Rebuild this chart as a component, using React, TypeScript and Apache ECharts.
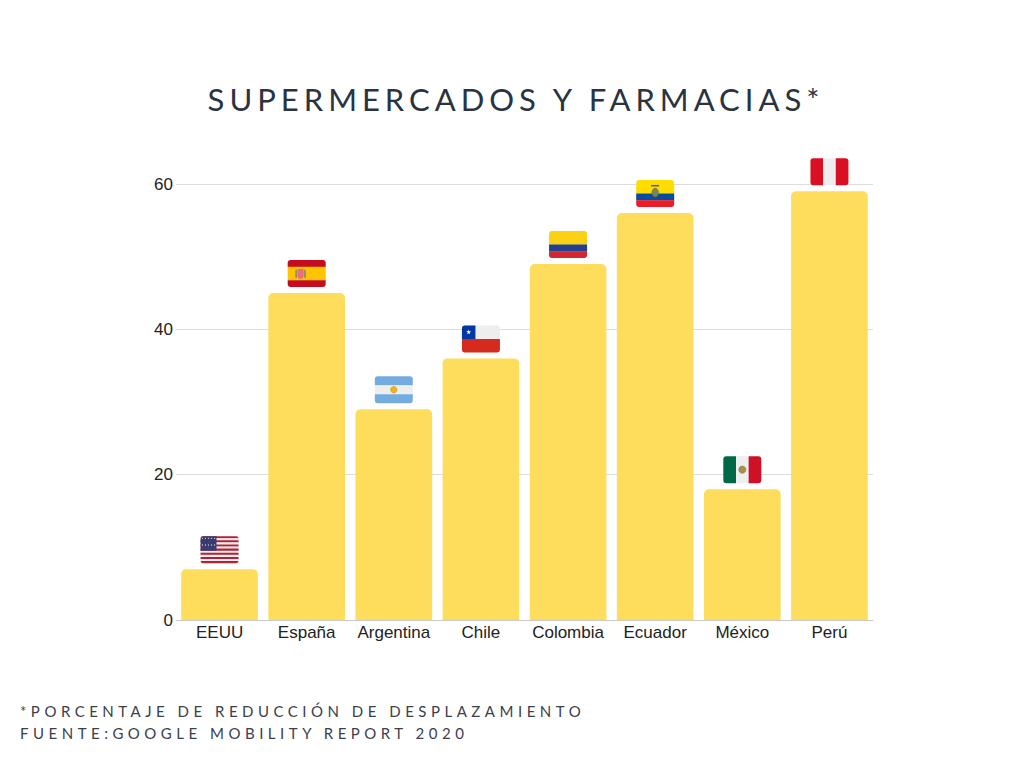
import React, { useEffect, useRef } from "react";
import * as echarts from "echarts";

const categories = ["EEUU", "España", "Argentina", "Chile", "Colombia", "Ecuador", "México", "Perú"];
const values = [7, 45, 29, 36, 49, 56, 18, 59];
const flagCodes = ["us", "es", "ar", "cl", "co", "ec", "mx", "pe"];
const yTicks = { min: 0, max: 60, interval: 20 };
const titleText = "SUPERMERCADOS Y FARMACIAS*";
const footerLines = ["*PORCENTAJE DE REDUCCIÓN DE DESPLAZAMIENTO", "FUENTE:GOOGLE MOBILITY REPORT 2020"];

const R = 3;
const WHITE = "#EEEEEE";

function rect(x: number, y: number, w: number, h: number, fill: string, r: any = 0) {
  return { type: "rect", shape: { x, y, width: w, height: h, r }, style: { fill } };
}
function circle(cx: number, cy: number, r: number, fill: string, stroke?: string) {
  return { type: "circle", shape: { cx, cy, r }, style: stroke ? { fill, stroke, lineWidth: 0.6 } : { fill } };
}
function star(cx: number, cy: number, ro: number, ri: number, fill: string) {
  const pts: number[][] = [];
  for (let k = 0; k < 10; k++) {
    const a = -Math.PI / 2 + (k * Math.PI) / 5;
    const rr = k % 2 === 0 ? ro : ri;
    pts.push([cx + rr * Math.cos(a), cy + rr * Math.sin(a)]);
  }
  return { type: "polygon", shape: { points: pts }, style: { fill } };
}
function hStripes(x: number, y: number, w: number, h: number, parts: [string, number][]) {
  const out: any[] = [];
  let cy = y;
  parts.forEach(([c, f], i) => {
    const sh = h * f;
    const r = i === 0 ? [R, R, 0, 0] : i === parts.length - 1 ? [0, 0, R, R] : 0;
    out.push(rect(x, cy, w, sh + (i < parts.length - 1 ? 0.3 : 0), c, r));
    cy += sh;
  });
  return out;
}
function vStripes(x: number, y: number, w: number, h: number, parts: string[]) {
  const out: any[] = [];
  const sw = w / parts.length;
  parts.forEach((c, i) => {
    const r = i === 0 ? [R, 0, 0, R] : i === parts.length - 1 ? [0, R, R, 0] : 0;
    out.push(rect(x + i * sw, y, sw + (i < parts.length - 1 ? 0.3 : 0), h, c, r));
  });
  return out;
}

function flagShapes(code: string, x: number, y: number, w: number, h: number): any[] {
  const cx = x + w / 2;
  const cy = y + h / 2;
  switch (code) {
    case "us": {
      const parts: [string, number][] = [];
      for (let i = 0; i < 13; i++) parts.push([i % 2 === 0 ? "#B22234" : WHITE, 1 / 13]);
      const out = hStripes(x, y, w, h, parts);
      const cw = w * 0.42;
      const ch = (h * 7) / 13;
      out.push(rect(x, y, cw, ch, "#3C3B6E", [R, 0, 0, 0]));
      for (let r = 0; r < 4; r++)
        for (let c = 0; c < 5; c++)
          out.push(circle(x + cw * (0.12 + c * 0.19), y + ch * (0.15 + r * 0.23), 0.55, "#DDDDEE"));
      return out;
    }
    case "es": {
      const out = hStripes(x, y, w, h, [["#C60B1E", 0.25], ["#FFC400", 0.5], ["#C60B1E", 0.25]]);
      out.push(rect(x + w * 0.2, y + h * 0.36, w * 0.05, h * 0.3, "#9A8A6A"));
      out.push(rect(x + w * 0.43, y + h * 0.36, w * 0.05, h * 0.3, "#9A8A6A"));
      out.push(rect(x + w * 0.26, y + h * 0.33, w * 0.16, h * 0.36, "#E8707A", [1, 1, 3, 3]));
      return out;
    }
    case "ar": {
      const out = hStripes(x, y, w, h, [["#74ACDF", 1 / 3], [WHITE, 1 / 3], ["#74ACDF", 1 / 3]]);
      out.push(circle(cx, cy, 3.2, "#F6B40E", "#C8891A"));
      return out;
    }
    case "cl": {
      const out = hStripes(x, y, w, h, [[WHITE, 0.5], ["#D52B1E", 0.5]]);
      out.push(rect(x, y, h * 0.5, h * 0.5, "#0039A6", [R, 0, 0, 0]));
      out.push(star(x + h * 0.25, y + h * 0.25, 2.6, 1.05, "#FFFFFF"));
      return out;
    }
    case "co":
      return hStripes(x, y, w, h, [["#FAD114", 0.5], ["#253F8F", 0.25], ["#D22630", 0.25]]);
    case "ec": {
      const out = hStripes(x, y, w, h, [["#FFDD00", 0.5], ["#034EA2", 0.25], ["#ED1C24", 0.25]]);
      out.push({ type: "ellipse", shape: { cx, cy: cy - 1, rx: 3.2, ry: 4.2 }, style: { fill: "#6C8F5A", stroke: "#8A6A3A", lineWidth: 0.8 } });
      out.push(rect(cx - 4, y + h * 0.18, 8, 1.6, "#7A5A30"));
      return out;
    }
    case "mx": {
      const out = vStripes(x, y, w, h, ["#006847", WHITE, "#CE1126"]);
      out.push(circle(cx, cy, 3.6, "#B08A4A", "#6F8F3F"));
      return out;
    }
    case "pe":
      return vStripes(x, y, w, h, ["#D91023", WHITE, "#D91023"]);
  }
  return [];
}

const cssText = `
svg text[style*="Lato"] { letter-spacing: 4.5px; }
svg text[style*="31px"][style*="Lato"] { letter-spacing: 5.0px; }
`;

export default function App() {
  const ref = useRef<HTMLDivElement>(null);
  useEffect(() => {
    if (!ref.current) return;
    const chart = echarts.init(ref.current, undefined, { renderer: "svg" });
    const FW = 38;
    const FH = 27;
    const option: any = {
      animation: false,
      backgroundColor: "#FFFFFF",
      title: {
        text: titleText,
        left: 511,
        top: 78,
        textAlign: "center",
        textStyle: { fontFamily: "Lato", fontSize: 31, fontWeight: "normal", color: "#2A3440" },
      },
      grid: { left: 176, right: 151, top: 184, bottom: 148, containLabel: false },
      xAxis: {
        type: "category",
        data: categories,
        axisTick: { show: false },
        axisLine: { lineStyle: { color: "#CCCCCC" } },
        axisLabel: { interval: 0, color: "#222222", fontSize: 17, fontFamily: "Liberation Sans, Arial, sans-serif", margin: 4 },
      },
      yAxis: {
        type: "value",
        min: yTicks.min,
        max: yTicks.max,
        interval: yTicks.interval,
        axisLine: { show: false },
        axisTick: { show: false },
        splitLine: { lineStyle: { color: "#DDDDDD" } },
        axisLabel: { color: "#222222", fontSize: 17, fontFamily: "Liberation Sans, Arial, sans-serif", margin: 3 },
      },
      series: [
        {
          type: "bar",
          data: values,
          barCategoryGap: "12%",
          itemStyle: { color: "#FEDD5C", borderRadius: [5, 5, 0, 0] },
          z: 2,
        },
        {
          type: "custom",
          data: values.map((v, i) => [i, v]),
          encode: { x: 0, y: 1 },
          z: 5,
          clip: false,
          renderItem: (params: any, api: any) => {
            const i = api.value(0);
            const pt = api.coord([i, api.value(1)]);
            const x = pt[0] - FW / 2;
            const y = pt[1] - 6 - FH;
            return { type: "group", children: flagShapes(flagCodes[i], x, y, FW, FH) };
          },
        },
      ],
      graphic: footerLines.map((t, i) => ({
        type: "text",
        left: 20,
        top: 703 + i * 22,
        style: { text: t, fontFamily: "Lato", fontSize: 15, fill: "#3A414C" },
      })),
    };
    chart.setOption(option);
    return () => chart.dispose();
  }, []);
  return (
    <>
      <style>{cssText}</style>
      <div ref={ref} style={{ position: "fixed", left: 0, top: 0, width: 1024, height: 768 }} />
    </>
  );
}
